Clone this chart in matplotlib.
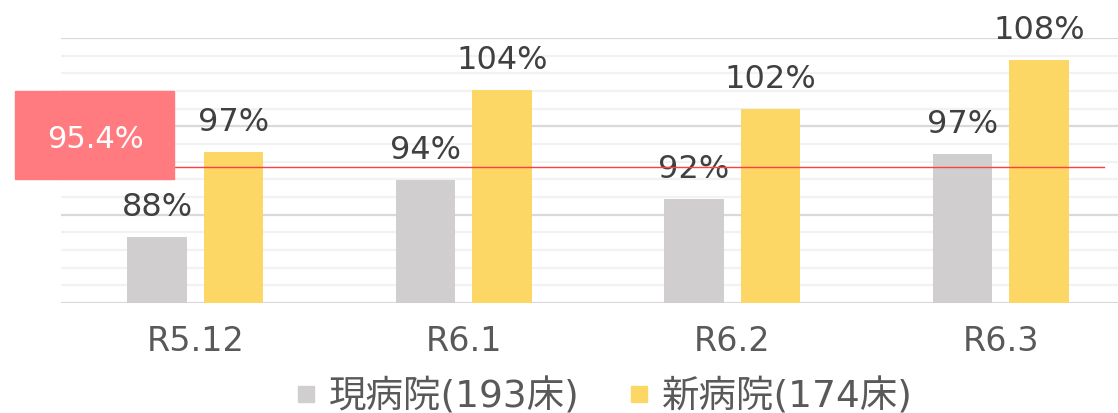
import matplotlib.pyplot as plt
from matplotlib.patches import Rectangle
from matplotlib.ticker import MultipleLocator
import numpy as np

# data
months = ['R5.12', 'R6.1', 'R6.2', 'R6.3']
current_ward = [87.5, 93.9, 91.8, 96.9]   # 現病院(193床)
new_ward = [97.1, 104.1, 102.0, 107.5]    # 新病院(174床)
current_labels = ['88%', '94%', '92%', '97%']
new_labels = ['97%', '104%', '102%', '108%']
average = 95.4
series_names = ['現病院(193床)', '新病院(174床)']

W, H = 1118, 413
fig = plt.figure(figsize=(W / 100, H / 100), dpi=100)
# axes runs past the right edge like in the original crop
ax = fig.add_axes([61 / W, (H - 303) / H, 1074 / W, 265 / H])

x = np.arange(len(months))
off = 0.1425
bw = 0.223
gray = '#D0CECF'
yellow = '#FDD766'
ax.bar(x - off, current_ward, bw, color=gray, zorder=3)
ax.bar(x + off, new_ward, bw, color=yellow, zorder=3)

lab_font = {'fontsize': 23, 'family': 'DejaVu Sans', 'color': '#404040'}
for xi, v, s in zip(x, current_ward, current_labels):
    ax.annotate(s, (xi - off, v), xytext=(0, 14), textcoords='offset pixels',
                ha='center', va='bottom', **lab_font)
for xi, v, s in zip(x, new_ward, new_labels):
    ax.annotate(s, (xi + off, v), xytext=(0, 14), textcoords='offset pixels',
                ha='center', va='bottom', **lab_font)

ax.set_xlim(-0.5, 3.5)
ax.set_ylim(80, 110)
ax.yaxis.set_major_locator(MultipleLocator(10))
ax.yaxis.set_minor_locator(MultipleLocator(2))
ax.grid(axis='y', which='major', color='#D9D9D9', lw=1.6, zorder=0)
ax.grid(axis='y', which='minor', color='#F2F2F2', lw=1.6, zorder=0)
ax.tick_params(axis='y', which='both', left=False, labelleft=False)
ax.tick_params(axis='x', length=0, pad=16, labelsize=24, labelcolor='#595959')
ax.set_xticks(x)
ax.set_xticklabels(months, family='DejaVu Sans')
for sp in ax.spines.values():
    sp.set_visible(False)

# average line
ax.plot([-0.079, 3.385], [average, average], color='#FF4040', lw=1, zorder=4)

# red tag on the left
fig.patches.append(Rectangle((15 / W, (H - 179) / H), 159 / W, 88 / H,
                             transform=fig.transFigure, color='#FF7B7F', zorder=5))
fig.text(95 / W, (H - 139) / H, f'{average}%', ha='center', va='center',
         fontsize=22, family='DejaVu Sans', weight='medium', color='white', zorder=6)

handles = [plt.Line2D([], [], marker='s', ls='', ms=12, color=c) for c in (gray, yellow)]
fig.legend(handles, series_names, loc='center', bbox_to_anchor=(0.54, 0.04),
           ncol=2, frameon=False, handlelength=0.6, handletextpad=0.3,
           columnspacing=1.3, prop={'family': ['DejaVu Sans', 'Noto Sans CJK JP'], 'size': 27},
           labelcolor='#595959')

fig.savefig('out.png', dpi=100)
